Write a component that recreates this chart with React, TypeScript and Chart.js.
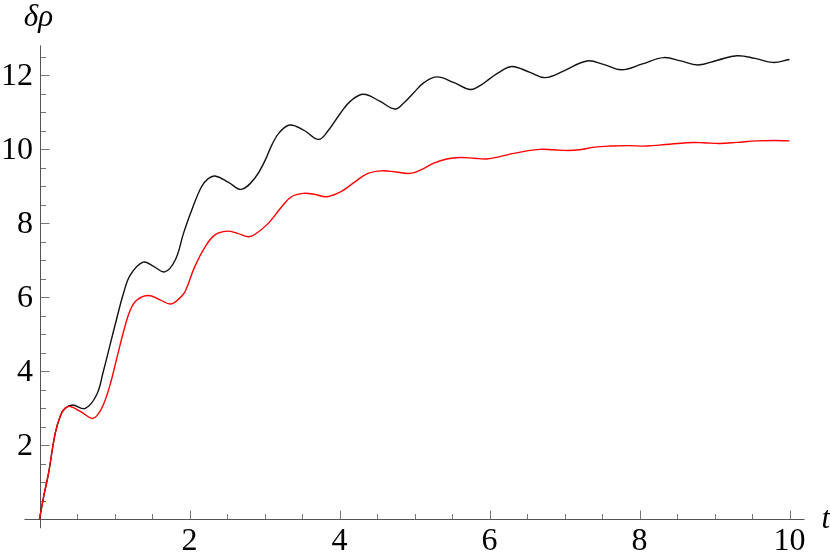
import React, { useEffect, useRef } from "react";
import { Chart, registerables } from "chart.js";

Chart.register(...registerables);

// Black curve (t, δρ)
const blackT = [0, 0.06, 0.12, 0.21, 0.28, 0.34, 0.44, 0.61, 0.76, 0.85, 0.94, 1.03, 1.12, 1.21, 1.38, 1.52, 1.67, 1.81, 1.92, 2.03, 2.16, 2.25, 2.34, 2.52, 2.69, 2.87, 3.01, 3.1, 3.2, 3.34, 3.53, 3.72, 3.85, 4.01, 4.15, 4.32, 4.53, 4.74, 4.86, 4.98, 5.13, 5.3, 5.52, 5.74, 5.88, 6.01, 6.15, 6.3, 6.54, 6.74, 7.0, 7.3, 7.53, 7.76, 8.04, 8.32, 8.55, 8.78, 9.04, 9.3, 9.54, 9.78, 10.0];
const blackV = [0, 0.65, 1.23, 2.32, 2.8, 2.99, 3.08, 2.99, 3.35, 3.98, 4.7, 5.42, 6.1, 6.59, 6.94, 6.83, 6.68, 7.0, 7.72, 8.35, 8.98, 9.2, 9.27, 9.1, 8.91, 9.21, 9.7, 10.12, 10.45, 10.65, 10.5, 10.26, 10.5, 10.96, 11.3, 11.48, 11.3, 11.08, 11.25, 11.5, 11.8, 11.95, 11.8, 11.61, 11.72, 11.91, 12.1, 12.23, 12.07, 11.93, 12.12, 12.38, 12.28, 12.14, 12.3, 12.47, 12.38, 12.27, 12.4, 12.52, 12.45, 12.34, 12.42];

// Red curve (t, δρ)
const redT = [0, 0.06, 0.12, 0.21, 0.28, 0.34, 0.41, 0.55, 0.7, 0.77, 0.85, 0.94, 1.03, 1.12, 1.21, 1.3, 1.45, 1.6, 1.75, 1.87, 1.94, 2.07, 2.21, 2.34, 2.5, 2.64, 2.78, 2.87, 3.05, 3.23, 3.36, 3.52, 3.68, 3.83, 4.03, 4.21, 4.38, 4.56, 4.75, 4.94, 5.1, 5.25, 5.43, 5.61, 5.8, 5.96, 6.15, 6.32, 6.5, 6.67, 6.85, 7.05, 7.2, 7.4, 7.61, 7.85, 8.1, 8.35, 8.63, 8.85, 9.07, 9.3, 9.56, 9.8, 10.0];
const redV = [0, 0.65, 1.23, 2.32, 2.8, 2.99, 3.04, 2.9, 2.72, 2.8, 3.08, 3.62, 4.34, 5.06, 5.65, 5.92, 6.04, 5.93, 5.81, 5.97, 6.14, 6.82, 7.36, 7.68, 7.78, 7.72, 7.63, 7.69, 7.99, 8.44, 8.71, 8.8, 8.77, 8.71, 8.86, 9.12, 9.34, 9.41, 9.38, 9.34, 9.45, 9.61, 9.73, 9.77, 9.75, 9.73, 9.8, 9.88, 9.95, 9.99, 9.98, 9.96, 9.98, 10.05, 10.08, 10.09, 10.08, 10.12, 10.17, 10.17, 10.15, 10.18, 10.22, 10.23, 10.22];

const xTicks = [2, 4, 6, 8, 10];
const xTickLabels = ["2", "4", "6", "8", "10"];
const yTicks = [2, 4, 6, 8, 10, 12];
const yTickLabels = ["2", "4", "6", "8", "10", "12"];
const minorStep = 0.5;
const xLabel = "t";
const yLabel = "δρ";

const axesPlugin = {
  id: "mmaAxes",
  beforeDatasetsDraw(chart: any) {
    const ctx = chart.ctx as CanvasRenderingContext2D;
    const xs = chart.scales.x;
    const ys = chart.scales.y;
    const area = chart.chartArea;
    const x0 = xs.getPixelForValue(0);
    const y0 = ys.getPixelForValue(0);
    ctx.save();
    ctx.strokeStyle = "#555";
    ctx.lineWidth = 1;
    ctx.beginPath();
    ctx.moveTo(area.left, Math.round(y0) + 0.5);
    ctx.lineTo(area.right, Math.round(y0) + 0.5);
    ctx.moveTo(Math.round(x0) + 0.5, area.top);
    ctx.lineTo(Math.round(x0) + 0.5, area.bottom);
    ctx.stroke();

    ctx.strokeStyle = "#777";
    ctx.beginPath();
    for (let v = minorStep; v <= xs.max - 0.2 + 1e-9; v += minorStep) {
      const major = xTicks.some((t) => Math.abs(t - v) < 1e-6);
      const len = major ? 8.5 : 5;
      const px = Math.round(xs.getPixelForValue(v)) + 0.5;
      ctx.moveTo(px, Math.round(y0));
      ctx.lineTo(px, Math.round(y0) - len);
    }
    for (let v = minorStep; v <= ys.max + 1e-9; v += minorStep) {
      const major = yTicks.some((t) => Math.abs(t - v) < 1e-6);
      const len = major ? 8.5 : 5;
      const py = Math.round(ys.getPixelForValue(v)) + 0.5;
      ctx.moveTo(Math.round(x0) + 1, py);
      ctx.lineTo(Math.round(x0) + 1 + len, py);
    }
    ctx.stroke();

    ctx.fillStyle = "#000";
    ctx.font = '32px "Liberation Serif"';
    ctx.textBaseline = "alphabetic";
    ctx.textAlign = "center";
    xTicks.forEach((t, i) => {
      ctx.fillText(xTickLabels[i], xs.getPixelForValue(t), y0 + 31);
    });
    ctx.textAlign = "right";
    yTicks.forEach((t, i) => {
      ctx.fillText(yTickLabels[i], x0 - 6.5, ys.getPixelForValue(t) + 9.5);
    });

    ctx.font = 'italic 31px "Liberation Serif"';
    ctx.textAlign = "left";
    ctx.fillText(xLabel, area.right + 17, y0 + 8.5);
    ctx.textAlign = "center";
    ctx.fillText(yLabel, x0 - 1, area.top - 19);
    ctx.restore();
  },
};

export default function App() {
  const ref = useRef<HTMLCanvasElement | null>(null);
  useEffect(() => {
    if (!ref.current) return;
    const chart = new Chart(ref.current, {
      type: "line",
      data: {
        datasets: [
          {
            label: "red",
            data: redT.map((t, i) => ({ x: t, y: redV[i] })),
            borderColor: "#ff0000",
            borderWidth: 1.4,
            pointRadius: 0,
            fill: false,
            tension: 0.4,
            order: 0,
          },
          {
            label: "black",
            data: blackT.map((t, i) => ({ x: t, y: blackV[i] })),
            borderColor: "#111",
            borderWidth: 1.4,
            pointRadius: 0,
            fill: false,
            tension: 0.4,
            order: 1,
          },
        ],
      },
      options: {
        animation: false,
        responsive: false,
        devicePixelRatio: 1,
        layout: { padding: { left: 24.5, right: 25.5, top: 45.4, bottom: 30.75 } },
        plugins: { legend: { display: false }, tooltip: { enabled: false } },
        scales: {
          x: { type: "linear", min: -0.2, max: 10.2, display: false },
          y: { type: "linear", min: -0.25, max: 12.8, display: false },
        },
      },
      plugins: [axesPlugin],
    });
    return () => chart.destroy();
  }, []);
  return (
    <div style={{ position: "absolute", left: 0, top: 0, width: 830, height: 559, background: "#fff" }}>
      <canvas ref={ref} width={830} height={559} />
    </div>
  );
}
